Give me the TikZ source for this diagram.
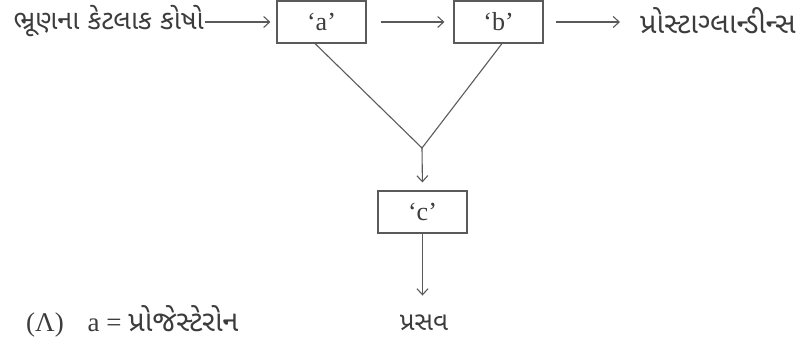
\documentclass[tikz,border=0pt]{standalone}
\usepackage{fontspec}
\setmainfont{Liberation Serif}
\newfontfamily\gujfont[Script=Gujarati]{Noto Sans Gujarati UI}
\usetikzlibrary{positioning,calc,arrows.meta}
\definecolor{ln}{HTML}{5A5A5A}
\definecolor{txt}{HTML}{3C3C3C}
\tikzset{
  box/.style={draw=ln, line width=1.1pt, minimum width=89pt, minimum height=42pt, inner sep=2pt, text=txt},
  lbl/.style={text=txt, inner sep=0pt, font=\gujfont\fontsize{27}{30}\selectfont},
  arr/.style={draw=ln, line width=1.1pt, -{Straight Barb[length=6pt, width=11pt]}},
  lnk/.style={draw=ln, line width=1.1pt}}
\begin{document}
\begin{tikzpicture}[x=1pt, y=-1pt, font=\fontsize{26}{30}\selectfont]
\useasboundingbox (0,0) rectangle (800,344);
\node[box] (a) at (321.5,22) {‘a’};
\node[box] (b) at (498.5,22) {‘b’};
\node[box] (c) at (422.5,212) {‘c’};
\node[lbl, anchor=east] (cells) at (204,21) {ભ્રૂણના કેટલાક કોષો};
\node[lbl, anchor=west, font=\gujfont\fontsize{29}{32}\selectfont] (pg) at (640,21) {પ્રોસ્ટાગ્લાન્ડીન્સ};
\node[lbl, font=\gujfont\fontsize{26}{29}\selectfont] (birth) at (424,323) {પ્રસવ};
\node[anchor=west, text=txt, inner sep=0pt, font=\fontsize{27}{30}\selectfont] (ans) at (26,321) {(Λ)\hspace{24pt}a = {\gujfont\fontsize{29}{32}\selectfont પ્રોજેસ્ટેરોન}};
\coordinate (m) at (422,148);
\draw[arr, shorten <=1pt, shorten >=6pt] (cells.east |- a.west) -- (a.west);
\draw[arr, shorten <=14pt, shorten >=9pt] (a.east) -- (b.west);
\draw[arr, shorten <=12pt, shorten >=20pt] (b.east) -- (pg.west |- b.east);
\draw[lnk] ($(a.south)+(-6.5,0)$) -- (m) -- ($(b.south)+(3.5,0)$);
\draw[arr, shorten >=8pt] (m) -- (c.north);
\draw[arr] (c.south) -- ++(0,62);
\end{tikzpicture}
\end{document}
